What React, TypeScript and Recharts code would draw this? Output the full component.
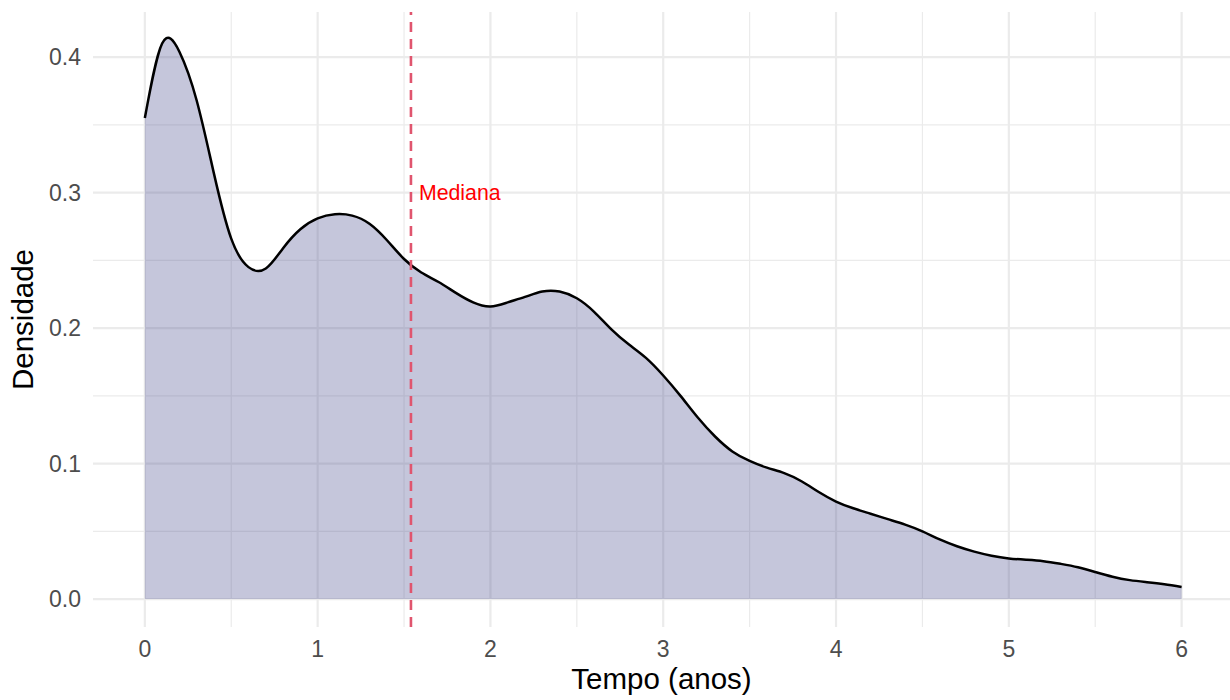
import React from "react";
import {
  ComposedChart,
  Area,
  XAxis,
  YAxis,
  CartesianGrid,
  ReferenceLine,
  ReferenceDot,
  Label,
} from "recharts";

// Tempo (anos) sample points
const tempo: number[] = [
  0.0, 0.1, 0.2, 0.3, 0.4, 0.5, 0.6, 0.7, 0.8, 0.9,
  1.0, 1.1, 1.2, 1.3, 1.4, 1.5, 1.6, 1.7, 1.8, 1.9,
  2.0, 2.1, 2.2, 2.3, 2.4, 2.5, 2.6, 2.7, 2.8, 2.9,
  3.0, 3.1, 3.2, 3.3, 3.4, 3.5, 3.6, 3.7, 3.8, 3.9,
  4.0, 4.1, 4.2, 4.3, 4.4, 4.5, 4.6, 4.7, 4.8, 4.9,
  5.0, 5.1, 5.2, 5.3, 5.4, 5.5, 5.6, 5.7, 5.8, 5.9,
  6.0,
];

// Densidade estimada
const densidade: number[] = [
  0.355, 0.410, 0.404, 0.368, 0.314, 0.266, 0.245, 0.244, 0.259, 0.273,
  0.281, 0.284, 0.283, 0.277, 0.265, 0.251, 0.241, 0.234, 0.226, 0.219,
  0.216, 0.219, 0.223, 0.227, 0.227, 0.222, 0.212, 0.199, 0.188, 0.178,
  0.165, 0.150, 0.134, 0.120, 0.109, 0.102, 0.097, 0.093, 0.087, 0.079,
  0.072, 0.067, 0.063, 0.059, 0.055, 0.050, 0.044, 0.039, 0.035, 0.032,
  0.030, 0.029, 0.028, 0.026, 0.0235, 0.020, 0.0165, 0.014, 0.0125, 0.011,
  0.009,
];

const mediana = 1.54;
const medianaLabelY = 0.3;

const xTicks: number[] = [0, 1, 2, 3, 4, 5, 6];
const xMinor: number[] = [0.5, 1.5, 2.5, 3.5, 4.5, 5.5];
const yTicks: number[] = [0, 0.1, 0.2, 0.3, 0.4];
const yMinor: number[] = [0.05, 0.15, 0.25, 0.35];

const xDomain: [number, number] = [-0.3, 6.28];
const yDomain: [number, number] = [-0.0206, 0.4333];

const data = tempo.map((t, i) => ({ t, d: densidade[i] }));

const FONT = "'Liberation Sans', Arial, Helvetica, sans-serif";

export default function App() {
  return (
    <div
      style={{
        position: "absolute",
        left: 0,
        top: 0,
        width: 1230,
        height: 700,
        background: "#ffffff",
        fontFamily: FONT,
      }}
    >
      <ComposedChart
        width={1230}
        height={700}
        data={data}
        margin={{ top: 12, right: 0, bottom: 0, left: 0 }}
      >
        <CartesianGrid
          horizontalValues={yMinor}
          verticalValues={xMinor}
          stroke="#EBEBEB"
          strokeWidth={1.2}
          fill="none"
        />
        <CartesianGrid
          horizontalValues={yTicks}
          verticalValues={xTicks}
          stroke="#EBEBEB"
          strokeWidth={2.2}
          fill="none"
        />
        <XAxis
          dataKey="t"
          type="number"
          domain={xDomain}
          allowDataOverflow
          ticks={xTicks}
          interval={0}
          axisLine={false}
          tickLine={false}
          tickSize={6}
          tickMargin={8}
          height={73}
          tick={{ fill: "#4D4D4D", fontSize: 23, fontFamily: FONT }}
        >
          <Label
            content={(props: any) => {
              const vb = props.viewBox || {};
              return (
                <text
                  x={vb.x + vb.width / 2}
                  y={689}
                  textAnchor="middle"
                  fill="#000000"
                  fontSize={29.5}
                  fontFamily={FONT}
                >
                  Tempo (anos)
                </text>
              );
            }}
          />
        </XAxis>
        <YAxis
          type="number"
          domain={yDomain}
          allowDataOverflow
          ticks={yTicks}
          interval={0}
          width={93}
          axisLine={false}
          tickLine={false}
          tickSize={6}
          tickMargin={6}
          tickFormatter={(v: number) => v.toFixed(1)}
          tick={{ fill: "#4D4D4D", fontSize: 23, fontFamily: FONT }}
        >
          <Label
            content={(props: any) => {
              const vb = props.viewBox || {};
              const cy = vb.y + vb.height / 2;
              return (
                <text
                  x={33}
                  y={cy}
                  textAnchor="middle"
                  transform={`rotate(-90, 33, ${cy})`}
                  fill="#000000"
                  fontSize={29.5}
                  fontFamily={FONT}
                >
                  Densidade
                </text>
              );
            }}
          />
        </YAxis>
        <Area
          type="natural"
          dataKey="d"
          stroke="#000000"
          strokeWidth={2.5}
          fill="#4B4E8F"
          fillOpacity={0.32}
          isAnimationActive={false}
          dot={false}
          activeDot={false}
        />
        <ReferenceLine
          x={mediana}
          stroke="#E0556E"
          strokeWidth={2.6}
          strokeDasharray="10 7"
        />
        <ReferenceDot
          x={mediana}
          y={medianaLabelY}
          r={0}
          fill="none"
          stroke="none"
          label={{
            value: "Mediana",
            position: "right",
            offset: 8,
            fill: "#FF0000",
            fontSize: 21.3,
            fontFamily: FONT,
          }}
        />
      </ComposedChart>
    </div>
  );
}
